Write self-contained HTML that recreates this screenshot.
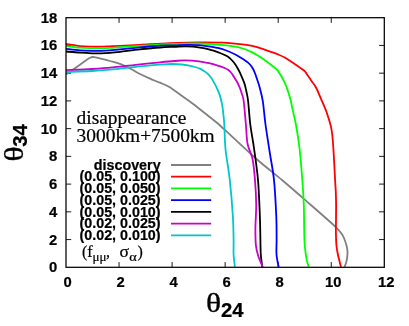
<!DOCTYPE html>
<html><head><meta charset="utf-8"><title>plot</title>
<style>
html,body{margin:0;padding:0;background:#fff;}
body{width:409px;height:326px;overflow:hidden;}
svg{display:block;}
text{stroke:#000;stroke-width:0.22px;}
svg{font-family:"Liberation Sans",sans-serif;font-weight:bold;font-size:14.8px;fill:#000;}
.serif{font-family:"Liberation Serif",serif;font-weight:normal;}
.th{font-size:29px;stroke:#000;stroke-width:0.35px;}
</style></head><body>
<svg style="will-change:transform" width="409" height="326" viewBox="0 0 409 326">
<rect width="409" height="326" fill="#fff"/>
<g fill="none" stroke="#000" stroke-width="0.9">
<path d="M119.05 267.30 v-5.20 M119.05 17.70 v5.20"/>
<path d="M172.10 267.30 v-5.20 M172.10 17.70 v5.20"/>
<path d="M225.15 267.30 v-5.20 M225.15 17.70 v5.20"/>
<path d="M278.20 267.30 v-5.20 M278.20 17.70 v5.20"/>
<path d="M331.25 267.30 v-5.20 M331.25 17.70 v5.20"/>
<path d="M66.00 239.57 h5.20 M384.30 239.57 h-5.20"/>
<path d="M66.00 211.83 h5.20 M384.30 211.83 h-5.20"/>
<path d="M66.00 184.10 h5.20 M384.30 184.10 h-5.20"/>
<path d="M66.00 156.37 h5.20 M384.30 156.37 h-5.20"/>
<path d="M66.00 128.63 h5.20 M384.30 128.63 h-5.20"/>
<path d="M66.00 100.90 h5.20 M384.30 100.90 h-5.20"/>
<path d="M66.00 73.17 h5.20 M384.30 73.17 h-5.20"/>
<path d="M66.00 45.43 h5.20 M384.30 45.43 h-5.20"/>
</g>
<g fill="none" stroke-width="1.8" stroke-linejoin="round" stroke-linecap="butt">
<path d="M66.00 74.50 C67.50 73.45 72.00 70.32 75.00 68.20 C78.00 66.08 81.75 63.40 84.00 61.80 C86.25 60.20 87.42 59.32 88.50 58.60 C89.58 57.88 89.78 57.77 90.50 57.50 C91.22 57.23 92.05 57.03 92.80 57.00 C93.55 56.97 94.13 57.15 95.00 57.30 C95.87 57.45 96.50 57.55 98.00 57.90 C99.50 58.25 102.00 58.88 104.00 59.40 C106.00 59.92 107.33 60.25 110.00 61.00 C112.67 61.75 116.67 62.65 120.00 63.90 C123.33 65.15 126.67 66.82 130.00 68.50 C133.33 70.18 136.67 72.32 140.00 74.00 C143.33 75.68 146.67 77.15 150.00 78.60 C153.33 80.05 156.85 81.33 160.00 82.70 C163.15 84.07 165.57 84.83 168.90 86.80 C172.23 88.77 176.00 91.68 180.00 94.50 C184.00 97.32 188.90 100.70 192.90 103.70 C196.90 106.70 200.15 109.45 204.00 112.50 C207.85 115.55 212.62 119.18 216.00 122.00 C219.38 124.82 217.60 123.27 224.30 129.40 C231.00 135.53 246.58 150.37 256.20 158.80 C265.82 167.23 274.15 173.40 282.00 180.00 C289.85 186.60 294.65 190.85 303.30 198.40 C311.95 205.95 327.37 219.18 333.90 225.30 C340.43 231.42 340.37 231.62 342.50 235.10 C344.63 238.58 345.87 243.13 346.70 246.20 C347.53 249.27 347.55 250.88 347.50 253.50 C347.45 256.12 346.92 259.65 346.40 261.90 C345.88 264.15 344.73 266.15 344.40 267.00" stroke="#808080"/>
<path d="M66.00 44.00 C68.33 44.35 75.67 45.65 80.00 46.10 C84.33 46.55 88.50 46.60 92.00 46.70 C95.50 46.80 98.00 46.77 101.00 46.70 C104.00 46.63 106.83 46.45 110.00 46.30 C113.17 46.15 115.00 46.05 120.00 45.80 C125.00 45.55 131.67 45.23 140.00 44.80 C148.33 44.37 160.17 43.62 170.00 43.20 C179.83 42.78 190.08 42.38 199.00 42.30 C207.92 42.22 216.67 42.38 223.50 42.70 C230.33 43.02 235.20 43.67 240.00 44.20 C244.80 44.73 248.22 45.00 252.30 45.90 C256.38 46.80 261.38 48.62 264.50 49.60 C267.62 50.58 268.75 51.00 271.00 51.80 C273.25 52.60 275.72 53.45 278.00 54.40 C280.28 55.35 282.35 56.20 284.70 57.50 C287.05 58.80 289.65 60.58 292.10 62.20 C294.55 63.82 297.30 65.72 299.40 67.20 C301.50 68.68 303.45 69.93 304.70 71.10 C305.95 72.27 305.73 72.52 306.90 74.20 C308.07 75.88 310.13 78.90 311.70 81.20 C313.27 83.50 314.77 85.10 316.30 88.00 C317.83 90.90 319.18 94.55 320.90 98.60 C322.62 102.65 324.83 107.17 326.60 112.30 C328.37 117.43 330.37 123.28 331.50 129.40 C332.63 135.52 332.80 140.57 333.40 149.00 C334.00 157.43 334.70 172.83 335.10 180.00 C335.50 187.17 335.63 187.83 335.80 192.00 C335.97 196.17 336.07 200.33 336.10 205.00 C336.13 209.67 336.03 215.50 336.00 220.00 C335.97 224.50 335.83 227.83 335.90 232.00 C335.97 236.17 336.12 241.50 336.40 245.00 C336.68 248.50 337.13 250.50 337.60 253.00 C338.07 255.50 338.63 257.67 339.20 260.00 C339.77 262.33 340.70 265.83 341.00 267.00" stroke="#ff0000"/>
<path d="M66.00 45.90 C68.33 46.20 75.67 47.33 80.00 47.70 C84.33 48.08 88.50 48.07 92.00 48.15 C95.50 48.23 98.00 48.24 101.00 48.20 C104.00 48.16 106.83 48.07 110.00 47.90 C113.17 47.73 115.00 47.53 120.00 47.20 C125.00 46.87 133.33 46.33 140.00 45.90 C146.67 45.47 154.25 44.92 160.00 44.60 C165.75 44.28 168.00 44.18 174.50 44.00 C181.00 43.82 190.83 43.30 199.00 43.50 C207.17 43.70 216.67 44.52 223.50 45.20 C230.33 45.88 235.20 46.40 240.00 47.60 C244.80 48.80 248.22 50.35 252.30 52.40 C256.38 54.45 261.22 57.70 264.50 59.90 C267.78 62.10 269.75 63.77 272.00 65.60 C274.25 67.43 275.78 67.85 278.00 70.90 C280.22 73.95 283.27 79.28 285.30 83.90 C287.33 88.52 288.97 94.25 290.20 98.60 C291.43 102.95 291.75 105.68 292.70 110.00 C293.65 114.32 294.75 118.00 295.90 124.50 C297.05 131.00 298.53 139.75 299.60 149.00 C300.67 158.25 301.60 170.75 302.30 180.00 C303.00 189.25 303.48 196.17 303.80 204.50 C304.12 212.83 304.05 223.30 304.20 230.00 C304.35 236.70 304.30 239.80 304.70 244.70 C305.10 249.60 305.90 255.68 306.60 259.40 C307.30 263.12 308.52 265.73 308.90 267.00" stroke="#00ff00"/>
<path d="M66.00 48.90 C68.33 49.13 75.67 49.98 80.00 50.30 C84.33 50.62 88.50 50.72 92.00 50.80 C95.50 50.88 98.00 50.88 101.00 50.80 C104.00 50.72 106.83 50.55 110.00 50.30 C113.17 50.05 115.00 49.78 120.00 49.30 C125.00 48.82 133.33 48.00 140.00 47.40 C146.67 46.80 154.25 46.05 160.00 45.70 C165.75 45.35 170.00 45.45 174.50 45.30 C179.00 45.15 182.92 44.82 187.00 44.80 C191.08 44.78 195.33 44.93 199.00 45.20 C202.67 45.47 206.00 45.97 209.00 46.40 C212.00 46.83 214.33 47.20 217.00 47.80 C219.67 48.40 221.87 48.85 225.00 50.00 C228.13 51.15 232.57 53.05 235.80 54.70 C239.03 56.35 242.37 58.58 244.40 59.90 C246.43 61.22 246.97 61.72 248.00 62.60 C249.03 63.48 249.77 64.17 250.60 65.20 C251.43 66.23 252.23 67.37 253.00 68.80 C253.77 70.23 254.45 71.85 255.20 73.80 C255.95 75.75 256.75 78.22 257.50 80.50 C258.25 82.78 258.82 84.07 259.70 87.50 C260.58 90.93 261.83 94.93 262.80 101.10 C263.77 107.27 264.30 115.68 265.50 124.50 C266.70 133.32 268.58 144.75 270.00 154.00 C271.42 163.25 272.95 169.53 274.00 180.00 C275.05 190.47 275.87 206.80 276.30 216.80 C276.73 226.80 276.57 233.72 276.60 240.00 C276.63 246.28 276.15 250.00 276.50 254.50 C276.85 259.00 278.33 264.92 278.70 267.00" stroke="#0000ff"/>
<path d="M66.00 51.50 C68.33 51.70 75.67 52.40 80.00 52.70 C84.33 53.00 88.50 53.20 92.00 53.30 C95.50 53.40 98.00 53.38 101.00 53.30 C104.00 53.22 106.83 53.05 110.00 52.80 C113.17 52.55 115.00 52.37 120.00 51.80 C125.00 51.23 133.33 50.12 140.00 49.40 C146.67 48.68 154.25 47.93 160.00 47.50 C165.75 47.07 170.33 47.00 174.50 46.80 C178.67 46.60 181.92 46.33 185.00 46.30 C188.08 46.27 190.20 46.35 193.00 46.60 C195.80 46.85 199.30 47.38 201.80 47.80 C204.30 48.22 206.05 48.62 208.00 49.10 C209.95 49.58 211.50 50.05 213.50 50.70 C215.50 51.35 217.78 52.12 220.00 53.00 C222.22 53.88 225.05 55.02 226.80 56.00 C228.55 56.98 229.28 57.77 230.50 58.90 C231.72 60.03 232.98 61.37 234.10 62.80 C235.22 64.23 236.22 65.83 237.20 67.50 C238.18 69.17 239.13 71.00 240.00 72.80 C240.87 74.60 241.63 76.43 242.40 78.30 C243.17 80.17 243.92 81.72 244.60 84.00 C245.28 86.28 245.92 89.17 246.50 92.00 C247.08 94.83 247.47 95.58 248.10 101.00 C248.73 106.42 249.30 116.50 250.30 124.50 C251.30 132.50 252.82 139.75 254.10 149.00 C255.38 158.25 257.03 168.70 258.00 180.00 C258.97 191.30 259.50 206.80 259.90 216.80 C260.30 226.80 260.25 233.72 260.40 240.00 C260.55 246.28 260.48 250.00 260.80 254.50 C261.12 259.00 262.05 264.92 262.30 267.00" stroke="#000000"/>
<path d="M66.00 70.10 C70.33 69.92 84.67 69.42 92.00 69.00 C99.33 68.58 105.33 67.98 110.00 67.60 C114.67 67.22 115.00 67.25 120.00 66.70 C125.00 66.15 133.33 65.03 140.00 64.30 C146.67 63.57 154.25 62.85 160.00 62.30 C165.75 61.75 170.33 61.32 174.50 61.00 C178.67 60.68 180.92 60.35 185.00 60.40 C189.08 60.45 195.00 60.83 199.00 61.30 C203.00 61.77 205.73 62.43 209.00 63.20 C212.27 63.97 216.00 65.10 218.60 65.90 C221.20 66.70 223.03 67.35 224.60 68.00 C226.17 68.65 227.02 69.13 228.00 69.80 C228.98 70.47 229.75 71.20 230.50 72.00 C231.25 72.80 231.85 73.70 232.50 74.60 C233.15 75.50 233.75 76.37 234.40 77.40 C235.05 78.43 235.75 79.65 236.40 80.80 C237.05 81.95 237.72 83.10 238.30 84.30 C238.88 85.50 239.30 86.38 239.90 88.00 C240.50 89.62 241.27 91.83 241.90 94.00 C242.53 96.17 243.03 95.92 243.70 101.00 C244.37 106.08 245.25 117.33 245.90 124.50 C246.55 131.67 246.50 138.28 247.60 144.00 C248.70 149.72 251.27 152.80 252.50 158.80 C253.73 164.80 254.38 172.38 255.00 180.00 C255.62 187.62 256.13 196.33 256.20 204.50 C256.27 212.67 255.43 222.05 255.40 229.00 C255.37 235.95 255.47 241.53 256.00 246.20 C256.53 250.87 257.47 253.53 258.60 257.00 C259.73 260.47 262.10 265.33 262.80 267.00" stroke="#cc00cc"/>
<path d="M66.00 72.00 C70.33 71.83 84.67 71.38 92.00 71.00 C99.33 70.62 105.33 70.10 110.00 69.70 C114.67 69.30 115.00 69.15 120.00 68.60 C125.00 68.05 133.33 67.07 140.00 66.40 C146.67 65.73 154.67 65.00 160.00 64.60 C165.33 64.20 168.33 64.02 172.00 64.00 C175.67 63.98 179.00 64.20 182.00 64.50 C185.00 64.80 187.83 65.38 190.00 65.80 C192.17 66.22 193.37 66.53 195.00 67.00 C196.63 67.47 198.30 67.95 199.80 68.60 C201.30 69.25 202.70 70.07 204.00 70.90 C205.30 71.73 206.47 72.55 207.60 73.60 C208.73 74.65 209.82 75.87 210.80 77.20 C211.78 78.53 212.50 79.83 213.50 81.60 C214.50 83.37 215.80 85.67 216.80 87.80 C217.80 89.93 218.70 92.03 219.50 94.40 C220.30 96.77 221.03 99.40 221.60 102.00 C222.17 104.60 222.45 106.25 222.90 110.00 C223.35 113.75 223.87 118.00 224.30 124.50 C224.73 131.00 224.58 139.75 225.50 149.00 C226.42 158.25 228.57 168.70 229.80 180.00 C231.03 191.30 232.27 206.80 232.90 216.80 C233.53 226.80 233.48 233.72 233.60 240.00 C233.72 246.28 233.38 250.00 233.60 254.50 C233.82 259.00 234.68 264.92 234.90 267.00" stroke="#00c8c8"/>
</g>
<rect x="66.0" y="17.7" width="318.30" height="249.60" fill="none" stroke="#000" stroke-width="1.25"/>
<g>
<text x="67.50" y="286.5" text-anchor="middle">0</text>
<text x="120.55" y="286.5" text-anchor="middle">2</text>
<text x="173.60" y="286.5" text-anchor="middle">4</text>
<text x="226.65" y="286.5" text-anchor="middle">6</text>
<text x="279.70" y="286.5" text-anchor="middle">8</text>
<text x="333.25" y="286.5" text-anchor="middle">10</text>
<text x="386.30" y="286.5" text-anchor="middle">12</text>
<text x="57.3" y="272.30" text-anchor="end">0</text>
<text x="57.3" y="244.57" text-anchor="end">2</text>
<text x="57.3" y="216.83" text-anchor="end">4</text>
<text x="57.3" y="189.10" text-anchor="end">6</text>
<text x="57.3" y="161.37" text-anchor="end">8</text>
<text x="57.3" y="133.63" text-anchor="end">10</text>
<text x="57.3" y="105.90" text-anchor="end">12</text>
<text x="57.3" y="78.17" text-anchor="end">14</text>
<text x="57.3" y="50.43" text-anchor="end">16</text>
<text x="57.3" y="22.70" text-anchor="end">18</text>
</g>
<g style="font-size:14.3px">
<text x="160.6" y="169.70" text-anchor="end">discovery</text>
<path d="M171 165.00 H211.2" stroke="#808080" stroke-width="1.8"/>
<text x="160.6" y="181.42" text-anchor="end">(0.05, 0.100)</text>
<path d="M171 176.72 H211.2" stroke="#ff0000" stroke-width="1.8"/>
<text x="160.6" y="193.14" text-anchor="end">(0.05, 0.050)</text>
<path d="M171 188.44 H211.2" stroke="#00ff00" stroke-width="1.8"/>
<text x="160.6" y="204.86" text-anchor="end">(0.05, 0.025)</text>
<path d="M171 200.16 H211.2" stroke="#0000ff" stroke-width="1.8"/>
<text x="160.6" y="216.58" text-anchor="end">(0.05, 0.010)</text>
<path d="M171 211.88 H211.2" stroke="#000000" stroke-width="1.8"/>
<text x="160.6" y="228.30" text-anchor="end">(0.02, 0.025)</text>
<path d="M171 223.60 H211.2" stroke="#cc00cc" stroke-width="1.8"/>
<text x="160.6" y="240.02" text-anchor="end">(0.02, 0.010)</text>
<path d="M171 235.32 H211.2" stroke="#00c8c8" stroke-width="1.8"/>
</g>
<text class="serif" x="76.6" y="123.6" style="font-size:19.4px">disappearance</text>
<text class="serif" x="76.6" y="142.1" style="font-size:19.4px">3000km+7500km</text>
<g class="serif" style="font-size:16px"><text x="82" y="257">(f</text><text x="92.6" y="260.8" style="font-size:13px">μμ</text><text x="106.0" y="257">,</text><g transform="translate(119.6,257) scale(1.1,1)"><text x="0" y="0">σ</text></g><g transform="translate(129.3,260.8) scale(1.1,1)"><text x="0" y="0" style="font-size:13px">α</text></g><text x="137.6" y="257">)</text></g>
<g transform="translate(206.1,312.3) scale(1.09,0.975)"><text class="serif th" x="0" y="0">θ</text></g>
<text x="221.0" y="316.5" style="font-size:20.3px">24</text>
<g transform="translate(23.1,161.4) rotate(-90)"><g transform="scale(1.09,0.975)"><text class="serif th" x="0" y="0">θ</text></g>
<text x="14.7" y="4.1" style="font-size:20.3px">34</text></g>
</svg>
</body></html>
